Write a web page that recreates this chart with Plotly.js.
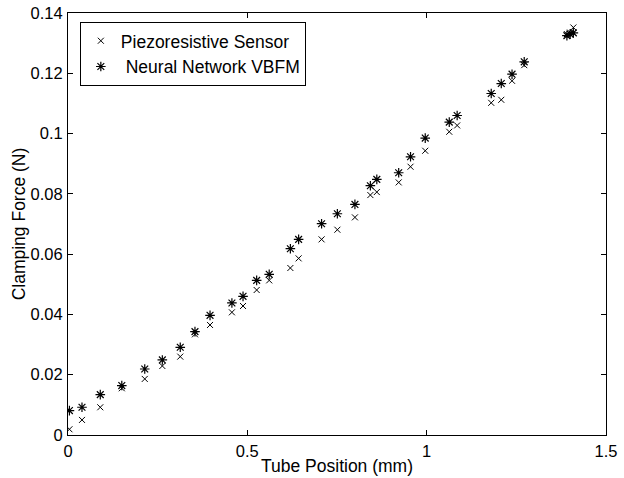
<!DOCTYPE html>
<html><head><meta charset="utf-8">
<script src="https://cdn.plot.ly/plotly-3.0.1.min.js"></script>
<style>body{margin:0;padding:0;background:#fff}#chart{width:624px;height:478px}</style>
</head><body><div id="chart"></div>
<script>
const positions = [0.004, 0.039, 0.090, 0.150, 0.214, 0.263, 0.313, 0.354, 0.396, 0.457, 0.488, 0.526, 0.561, 0.620, 0.643, 0.707, 0.751, 0.800, 0.843, 0.861, 0.922, 0.955, 0.996, 1.063, 1.085, 1.180, 1.208, 1.238, 1.272, 1.391, 1.400, 1.409];
const piezoForce = [0.0019, 0.0050, 0.0092, 0.0155, 0.0186, 0.0229, 0.0260, 0.0334, 0.0365, 0.0407, 0.0428, 0.0481, 0.0513, 0.0554, 0.0586, 0.0649, 0.0681, 0.0722, 0.0796, 0.0806, 0.0838, 0.0890, 0.0943, 0.1006, 0.1027, 0.1102, 0.1112, 0.1175, 0.1227, 0.1330, 0.1335, 0.1352];
const nnForce = [0.0081, 0.0092, 0.0134, 0.0164, 0.0219, 0.0249, 0.0291, 0.0343, 0.0397, 0.0438, 0.0460, 0.0513, 0.0533, 0.0618, 0.0649, 0.0701, 0.0734, 0.0765, 0.0827, 0.0848, 0.0870, 0.0923, 0.0985, 0.1038, 0.1060, 0.1133, 0.1166, 0.1197, 0.1238, 0.1325, 0.1330, 0.1334];
const xTicks = [0, 0.5, 1, 1.5];
const yTicks = [0, 0.02, 0.04, 0.06, 0.08, 0.1, 0.12, 0.14];

const fam = 'Liberation Sans, Arial, sans-serif';
const tickFont = {family: fam, size: 16.5, color: '#000'};
const titleFont = {family: fam, size: 17.5, color: '#000'};
const traces = [
  {x: positions, y: piezoForce, mode: 'markers', type: 'scatter', name: 'Piezoresistive Sensor',
   marker: {symbol: 'x-thin-open', size: 6, color: '#000', line: {color: '#000', width: 1}}},
  {x: positions, y: nnForce, mode: 'markers', type: 'scatter', name: ' Neural Network VBFM',
   marker: {symbol: 'asterisk-open', size: 8, color: '#000', line: {color: '#000', width: 1.2}}}
];
const axisCommon = {showline: true, linecolor: '#000', linewidth: 1, mirror: 'ticks', ticks: 'inside',
  ticklen: 5, tickcolor: '#000', showgrid: false, zeroline: false, tickfont: tickFont};
const layout = {
  width: 624, height: 478, paper_bgcolor: '#fff', plot_bgcolor: '#fff', font: titleFont,
  margin: {l: 68, r: 18, t: 13, b: 43},
  xaxis: Object.assign({}, axisCommon, {range: [0, 1.5], tickvals: xTicks, ticktext: xTicks.map(String),
    ticklabelstandoff: 1,
    title: {text: 'Tube Position (mm)', font: titleFont, standoff: 0}}),
  yaxis: Object.assign({}, axisCommon, {range: [0, 0.14], tickvals: yTicks, ticktext: yTicks.map(String),
    ticklabelstandoff: 1,
    title: {text: 'Clamping Force (N)', font: titleFont, standoff: 0}}),
  showlegend: true,
  legend: {x: 0.022, y: 0.979, xanchor: 'left', yanchor: 'top', bordercolor: '#000', borderwidth: 1,
    bgcolor: '#fff', font: titleFont, tracegroupgap: 0, itemwidth: 30}
};
Plotly.newPlot('chart', traces, layout, {displayModeBar: false, staticPlot: true});
</script></body></html>
